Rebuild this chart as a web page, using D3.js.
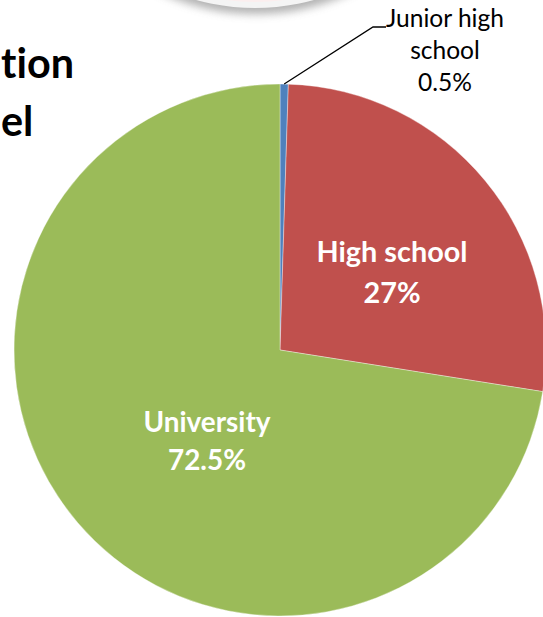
<!DOCTYPE html>
<html>
<head>
<meta charset="utf-8">
<script src="https://cdn.jsdelivr.net/npm/d3@7"></script>
<style>
  html, body { margin: 0; padding: 0; background: #fff; overflow: hidden; }
  svg { display: block; }
  text { font-variant-ligatures: none; font-feature-settings: "liga" 0, "clig" 0; }
</style>
</head>
<body>
<svg id="chart" width="543" height="617"></svg>
<script>
// Education level of respondents
const categories = ["Junior high school", "High school", "University"];
const shares = [0.5, 27, 72.5];
const shareLabels = ["0.5%", "27%", "72.5%"];
const labelLines = [["Junior high", "school"], ["High school"], ["University"]];
const colors = ["#4F81BD", "#C0504D", "#9BBB59"];
const titleFragments = ["tion", "el"];

const W = 543, H = 617;
const cx = 280, cy = 350, R = 266;
const font = "Lato, 'Open Sans', sans-serif";

const svg = d3.select("#chart");
const defs = svg.append("defs");

// size a block of text lines so that its first line spans the given width
function fitSize(sel, width, base) {
  const first = sel.node();
  const w = first.getComputedTextLength();
  const size = w > 0 ? base * width / w : base;
  sel.attr("font-size", size);
  return size;
}

// soft shadow for the round picture peeking in at the top edge
const f = defs.append("filter").attr("id", "soft").attr("x", "-30%").attr("y", "-30%")
  .attr("width", "160%").attr("height", "160%");
f.append("feGaussianBlur").attr("stdDeviation", 4);

const badge = svg.append("g");
badge.append("circle").attr("cx", 256).attr("cy", -212).attr("r", 226)
  .attr("fill", "#9a9a9a").attr("filter", "url(#soft)").attr("opacity", 0.75);
badge.append("circle").attr("cx", 255).attr("cy", -213).attr("r", 221)
  .attr("fill", "#f4f4f4");
badge.append("circle").attr("cx", 255).attr("cy", -213).attr("r", 215)
  .attr("fill", "#fbeeee");

// cropped heading text at the upper left, both lines share one size
const titleY = [78, 136];
const title = svg.append("g").selectAll("text").data(titleFragments).join("text")
  .attr("x", 1).attr("y", (d, i) => titleY[i])
  .attr("font-family", font).attr("font-weight", 700)
  .attr("font-size", 40).attr("fill", "#000")
  .text(d => d);
fitSize(title, 73, 40);

// pie, starting at 12 o'clock and going clockwise in data order
const pie = d3.pie().sort(null).value(d => d)(shares);
const arc = d3.arc().innerRadius(0).outerRadius(R);

const g = svg.append("g").attr("transform", `translate(${cx},${cy})`);
g.selectAll("path").data(pie).join("path")
  .attr("d", arc)
  .attr("fill", (d, i) => colors[i])
  .attr("stroke", "rgba(255,255,255,0.45)")
  .attr("stroke-width", 0.8);

// inside labels (white, bold)
const inside = [
  { i: 1, x: 392, y: [262, 303], w: 151 },
  { i: 2, x: 207, y: [432, 470], w: 127 }
];
inside.forEach(L => {
  const lines = labelLines[L.i].concat([shareLabels[L.i]]);
  const s = svg.append("g").selectAll("text").data(lines).join("text")
    .attr("x", L.x).attr("y", (d, k) => L.y[k])
    .attr("text-anchor", "middle")
    .attr("font-family", font).attr("font-weight", 700)
    .attr("font-size", 25).attr("fill", "#fff")
    .text(d => d);
  fitSize(s, L.w, 25);
});

// outside label with leader line for the smallest slice
const small = pie[0];
const mid = (small.startAngle + small.endAngle) / 2;
const p0 = [cx + R * Math.sin(mid), cy - R * Math.cos(mid)];
const elbow = [373, 27];
svg.append("polyline")
  .attr("points", [p0, elbow, [386, 27]].map(p => p.join(",")).join(" "))
  .attr("fill", "none").attr("stroke", "#000").attr("stroke-width", 1.3);

const outLines = labelLines[0].concat([shareLabels[0]]);
const outText = svg.append("g").selectAll("text").data(outLines).join("text")
  .attr("x", 445).attr("y", (d, k) => [27, 59, 91][k])
  .attr("text-anchor", "middle")
  .attr("font-family", font).attr("font-weight", 400)
  .attr("font-size", 22).attr("fill", "#000")
  .text(d => d);
fitSize(outText, 118, 22);
</script>
</body>
</html>
